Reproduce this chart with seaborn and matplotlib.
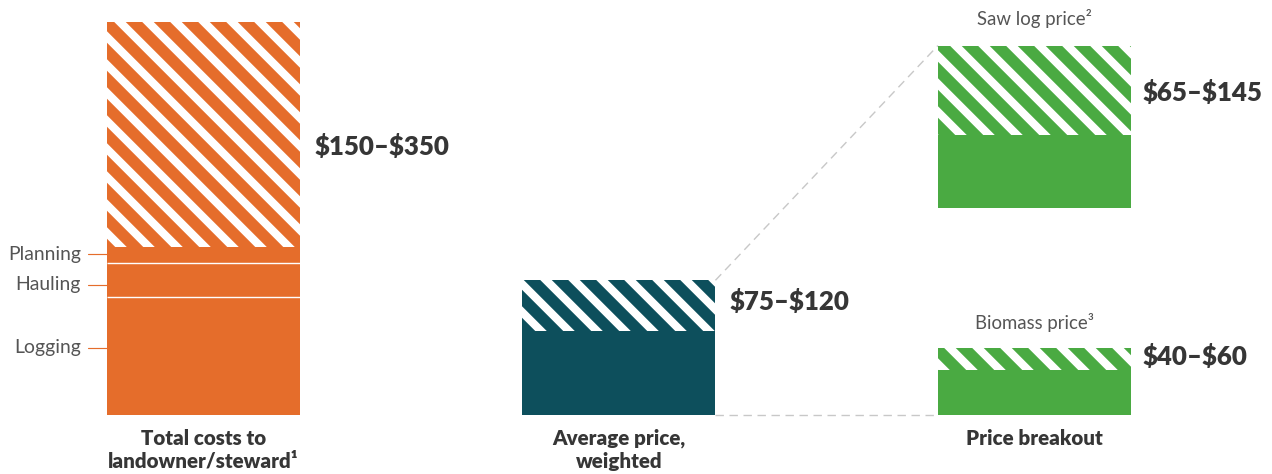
import matplotlib
matplotlib.use('Agg')
import matplotlib.pyplot as plt
import seaborn as sns
import pandas as pd

# values ($ per unit)
categories = ['Total costs to\nlandowner/steward¹', 'Average price,\nweighted', 'Price breakout']
cost_parts = ['Logging', 'Hauling', 'Planning']
cost_values = [105, 30, 15]
total_cost_range = [150, 350]
avg_price_range = [75, 120]
saw_log_range = [65, 145]
biomass_range = [40, 60]
saw_log_base = 184          # saw log bar is drawn floating above the biomass bar

orange = '#E56D2B'
teal = '#0D4F5C'
green = '#4AAA42'
dark = '#363636'
grey = '#555555'

DPI = 168
sns.set_style('white')
plt.rcParams['font.family'] = ['Lato', 'DejaVu Sans']
plt.rcParams['hatch.linewidth'] = 5

fig = plt.figure(figsize=(1272 / DPI, 474 / DPI), dpi=DPI)
ax = fig.add_axes([0, 0, 1, 1])
W = 0.4645


def bar(cat, value, color, hatched, **kw):
    n = len(ax.patches)
    sns.barplot(x=[cat], y=[value], order=categories, width=W, ax=ax, **kw)
    for p in ax.patches[n:]:
        if hatched:
            p.set_facecolor('white')
            p.set_edgecolor(color)
            p.set_hatch('\\\\')
        else:
            p.set_facecolor(color)
            p.set_edgecolor(color)
        p.set_linewidth(0)


def rng(r):
    return '\\$%d–\\$%d' % tuple(r)


# left: total costs
bar(categories[0], total_cost_range[1], orange, True)
bar(categories[0], sum(cost_values), orange, False)
cum = pd.Series(cost_values).cumsum().tolist()
ax.hlines(cum[:-1], -W / 2, W / 2, color='white', lw=0.6, zorder=5)
label_y = [60, 116, 143]
for name, y in zip(cost_parts, label_y):
    ax.plot([-0.278, -W / 2], [y, y], color=orange, lw=0.5)
    ax.text(-0.295, y, name, ha='right', va='center', fontsize=8.3, color=grey)

# middle: weighted average
bar(categories[1], avg_price_range[1], teal, True)
bar(categories[1], avg_price_range[0], teal, False)

# right: breakout
bar(categories[2], saw_log_range[1], green, True, bottom=saw_log_base)
bar(categories[2], saw_log_range[0], green, False, bottom=saw_log_base)
bar(categories[2], biomass_range[1], green, True)
bar(categories[2], biomass_range[0], green, False)

# connector lines
ax.plot([1 + W / 2, 2 - W / 2], [avg_price_range[1], saw_log_base + saw_log_range[1]],
        color='#c8c8c8', lw=0.6, ls=(0, (6, 4)), zorder=0)
ax.plot([1 + W / 2, 2 - W / 2], [0, 0], color='#c8c8c8', lw=0.6, ls=(0, (6, 4)), zorder=0)

# value labels
vfont = dict(fontsize=11.1, fontweight='heavy', color=dark, va='center', ha='left')
ax.text(0.266, 239, rng(total_cost_range), **vfont)
ax.text(1.267, 101, rng(avg_price_range), **vfont)
ax.text(2.261, 287, rng(saw_log_range), **vfont)
ax.text(2.261, 52, rng(biomass_range), **vfont)

ax.text(2, 353, 'Saw log price²', ha='center', va='center', fontsize=8, color=grey)
ax.text(2, 82, 'Biomass price³', ha='center', va='center', fontsize=8, color=grey)

for i, cat in enumerate(categories):
    ax.text(i, -12, cat, ha='center', va='top', fontsize=8.8, fontweight='heavy',
            color=dark, linespacing=1.25)

ax.set_xlim(-0.49, 2.572)
ax.set_ylim(-52.5, 369.6)
ax.set_axis_off()

fig.savefig('out.png', dpi=DPI)
